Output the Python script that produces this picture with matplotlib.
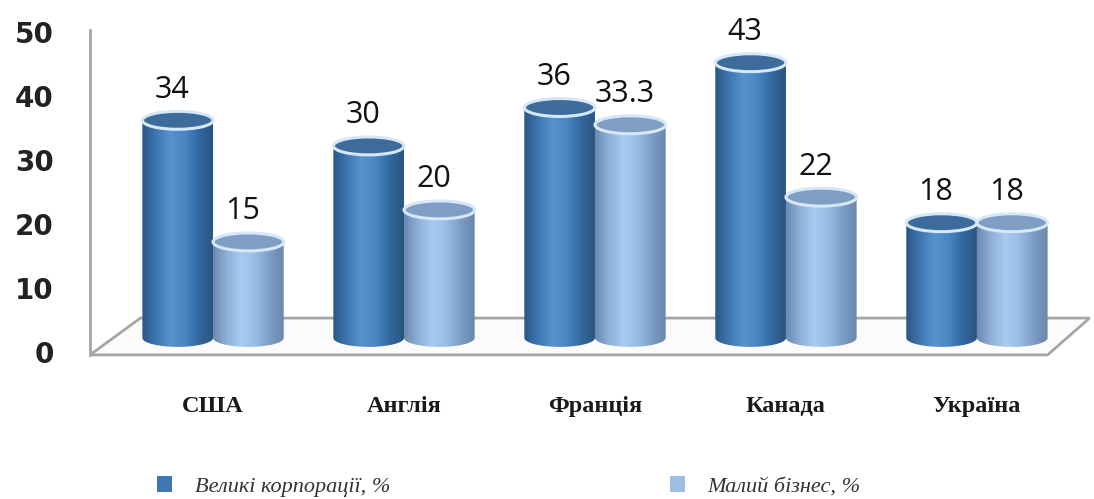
import matplotlib
matplotlib.use('Agg')
import matplotlib.pyplot as plt
import numpy as np
from matplotlib.colors import LinearSegmentedColormap
from matplotlib.patches import Ellipse, Polygon, Patch
from matplotlib.path import Path
from matplotlib.patches import PathPatch

# data
countries = ['США', 'Англія', 'Франція', 'Канада', 'Україна']
big_corp = [34, 30, 36, 43, 18]
small_biz = [15, 20, 33.3, 22, 18]
series_names = ['Великі корпорації, %', 'Малий бізнес, %']
yticks = [0, 10, 20, 30, 40, 50]

# style
DARK = LinearSegmentedColormap.from_list(
    'dark', ['#2a5784', '#3f77b2', '#5693cd', '#4a86c4', '#3369a0', '#2a5480'])
LIGHT = LinearSegmentedColormap.from_list(
    'light', ['#6b89ae', '#8fb1da', '#a9cbef', '#98bce6', '#7c9dc6', '#6a86aa'])
TOP_COLORS = ['#3d6c9b', '#7f9ec4']
RIM = '#d6e7f7'
FLOOR_Y = 2.2      # cylinders stand on the 3d floor, a bit above zero
BAR_W = 0.37
RY = 1.4           # half-height of the elliptic caps (data units)


def draw_cylinder(ax, cx, height, cmap, top_color):
    x0, x1 = cx - BAR_W / 2, cx + BAR_W / 2
    bottom = FLOOR_Y
    top = FLOOR_Y + height
    # outline of the body: rectangle with a rounded (half ellipse) bottom
    t = np.linspace(np.pi, 2 * np.pi, 60)
    bx = cx + BAR_W / 2 * np.cos(t)
    by = bottom + RY * np.sin(t)
    verts = [(x0, top)] + list(zip(bx, by)) + [(x1, top), (x0, top)]
    body = PathPatch(Path(verts), facecolor='none', edgecolor='none')
    ax.add_patch(body)
    grad = np.linspace(0, 1, 256).reshape(1, -1)
    im = ax.imshow(grad, cmap=cmap, aspect='auto', interpolation='bicubic',
                   extent=[x0, x1, bottom - RY, top], zorder=3)
    im.set_clip_path(body)
    cap = Ellipse((cx, top), BAR_W, 2 * RY, facecolor=top_color,
                  edgecolor=RIM, linewidth=2.2, zorder=4)
    ax.add_patch(cap)
    return top


fig = plt.figure(figsize=(10.94, 4.99), dpi=100)
ax = fig.add_axes([0.0823, 0.2946, 0.9177, 0.6413])

n = len(countries)
x = np.arange(n)

# floor of the 3d box
floor = Polygon([(-0.644, -0.45), (n - 0.63, -0.45), (n - 0.41, 5.3), (-0.38, 5.3)],
                closed=True, facecolor='#fbfbfb', edgecolor='#a6a6a6',
                linewidth=2, zorder=1, clip_on=False)
ax.add_patch(floor)

for i in range(n):
    for j, (vals, cmap) in enumerate([(big_corp, DARK), (small_biz, LIGHT)]):
        cx = x[i] + (j - 0.5) * BAR_W
        top = draw_cylinder(ax, cx, vals[i], cmap, TOP_COLORS[j])
        label = f'{vals[i]:g}'
        ax.annotate(label, (cx, top), xytext=(-4, 22), textcoords='offset points',
                    ha='center', va='center', fontsize=22, color='#111111',
                    family='Open Sans', zorder=6, annotation_clip=False)

ax.set_xlim(-0.644, 4.613)
ax.set_ylim(0, 50)
ax.set_yticks(yticks)
ax.set_yticklabels([str(v) for v in yticks], fontsize=20, fontweight='bold',
                   color='#222222', family='DejaVu Sans')
ax.tick_params(axis='y', length=0, pad=26)
ax.set_xticks(x)
ax.set_xticklabels(countries, fontsize=17.5, fontweight='bold',
                   family='Liberation Serif', color='#1a1a1a')
ax.tick_params(axis='x', length=0, pad=32)

for side in ['top', 'right', 'bottom']:
    ax.spines[side].set_visible(False)
ax.spines['left'].set_color('#a6a6a6')
ax.spines['left'].set_linewidth(2)
ax.spines['left'].set_bounds(-0.45, 50.3)
ax.patch.set_visible(False)

handles = [Patch(facecolor='#3f77b2', edgecolor='none'),
           Patch(facecolor='#9dbde3', edgecolor='none')]
leg = fig.legend(handles, series_names, loc='center left',
                 bbox_to_anchor=(0.125, 0.025), ncol=2, frameon=False,
                 prop={'family': 'Liberation Serif', 'style': 'italic', 'size': 16},
                 handlelength=0.7, handleheight=0.7, handletextpad=1.0,
                 columnspacing=12.6)
for t in leg.get_texts():
    t.set_color('#333333')

fig.savefig('out.png', dpi=100)
